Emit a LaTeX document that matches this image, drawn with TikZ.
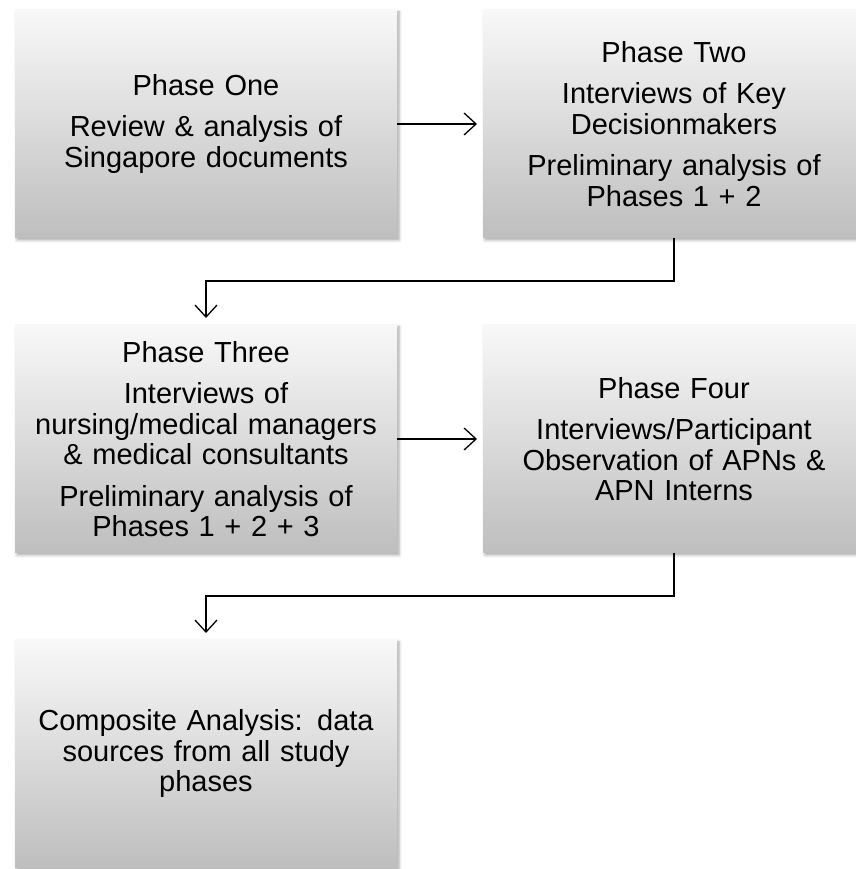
\documentclass[tikz,border=0pt]{standalone}
\usepackage{fontspec}
\setmainfont{Liberation Sans}
\usepackage{tikz}
\usetikzlibrary{arrows.meta, positioning, shadows.blur}
\usepackage{xcolor}
\definecolor{phasetop}{RGB}{248, 248, 248}
\definecolor{phasebot}{RGB}{190, 190, 190}
\tikzset{
  pbox/.style={
    rectangle, top color=phasetop, bottom color=phasebot,
    blur shadow={shadow xshift=2pt, shadow yshift=-2pt, shadow blur radius=3pt, shadow opacity=35},
    minimum width=382pt, minimum height=228pt, text width=376pt,
    align=center, inner sep=0pt, outer sep=0pt,
    font=\fontsize{29}{30.5}\selectfont
  },
  arr/.style={-{Straight Barb[length=12pt, width=22pt, line width=1.3pt]}, line width=1.3pt, black},
}
\begin{document}
\begin{tikzpicture}[x=1pt, y=1pt, node distance=87pt and 86pt]
    \useasboundingbox (0,0) rectangle (855,869);

    \node[pbox] (one) at (206,745) {Phase One\\[11pt]Review \& analysis of\\Singapore documents};
    \node[pbox, right=of one] (two) {Phase Two\\[11pt]Interviews of Key\\Decisionmakers\\[11pt]Preliminary analysis of\\Phases 1 + 2};
    \node[pbox, below=of one] (three) {Phase Three\\[11pt]Interviews of\\nursing/medical managers\\\& medical consultants\\[11pt]Preliminary analysis of\\Phases 1 + 2 + 3};
    \node[pbox, below=of two] (four) {Phase Four\\[11pt]Interviews/Participant\\Observation of APNs \&\\APN Interns};
    \node[pbox, below=of three] (five) {Composite Analysis: data\\sources from all study\\phases};

    \draw[arr, shorten >=6pt] (one) -- (two);
    \draw[arr, shorten >=6pt] (three) -- (four);
    \foreach \a/\b in {two/three, four/five}
      \draw[arr, shorten >=7pt] (\a.south) -- ++(0,-43) -| (\b.north);
  \end{tikzpicture}
\end{document}
